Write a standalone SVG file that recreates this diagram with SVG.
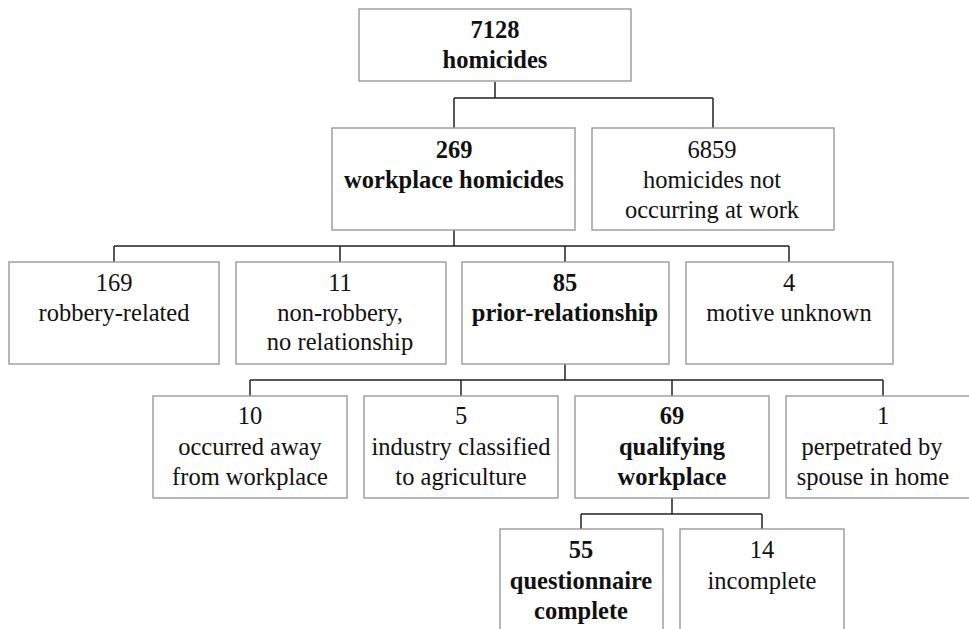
<svg xmlns="http://www.w3.org/2000/svg" width="969" height="629" viewBox="0 0 969 629">
<style>
.box{fill:#fff;stroke:#999;stroke-width:1.4}
.conn{fill:none;stroke:#222;stroke-width:1.5}
text{font-family:'Liberation Serif','Times New Roman',serif;font-size:24.5px;fill:#111;text-anchor:middle}
.b{font-weight:bold}
</style>
<rect width="969" height="629" fill="#fff"/>
<g id="connectors" class="conn">
<path d="M495 82V98M454 98H713M454 98V128M713 98V128"/>
<path d="M454 230V246M114 246H789M114 246V262M340 246V262M565 246V262M789 246V262"/>
<path d="M565 364V380M250 380H883M250 380V396M461 380V396M672 380V396M883 380V396"/>
<path d="M672 498V514M581 514H762M581 514V529M762 514V529"/>
</g>
<g id="nodes" font-family="Liberation Serif, Times New Roman, serif">
<g id="n7128"><rect class="box" x="359" y="9" width="272" height="72"/><text class="b" x="495" y="38">7128</text><text class="b" x="495" y="68">homicides</text></g>
<g id="n269"><rect class="box" x="332" y="128" width="243" height="102"/><text class="b" x="454" y="158">269</text><text class="b" x="454" y="188">workplace homicides</text></g>
<g id="n6859"><rect class="box" x="592" y="128" width="242" height="102"/><text x="712" y="158">6859</text><text x="712" y="188">homicides not</text><text x="712" y="218">occurring at work</text></g>
<g id="n169"><rect class="box" x="9" y="262" width="210" height="102"/><text x="114" y="291">169</text><text x="114" y="321">robbery-related</text></g>
<g id="n11"><rect class="box" x="236" y="262" width="210" height="102"/><text x="340" y="291">11</text><text x="340" y="321">non-robbery,</text><text x="340" y="350">no relationship</text></g>
<g id="n85"><rect class="box" x="462" y="262" width="207" height="102"/><text class="b" x="565" y="291">85</text><text class="b" x="565" y="321">prior-relationship</text></g>
<g id="n4"><rect class="box" x="686" y="262" width="207" height="102"/><text x="789" y="291">4</text><text x="789" y="321">motive unknown</text></g>
<g id="n10"><rect class="box" x="153" y="396" width="194" height="102"/><text x="250" y="424">10</text><text x="250" y="455">occurred away</text><text x="250" y="485">from workplace</text></g>
<g id="n5"><rect class="box" x="364" y="396" width="194" height="102"/><text x="461" y="424">5</text><text x="461" y="455">industry classified</text><text x="461" y="485">to agriculture</text></g>
<g id="n69"><rect class="box" x="575" y="396" width="194" height="102"/><text class="b" x="672" y="424">69</text><text class="b" x="672" y="455">qualifying</text><text class="b" x="672" y="485">workplace</text></g>
<g id="n1"><rect class="box" x="786" y="396" width="194" height="102"/><text x="883" y="424">1</text><text x="872" y="455">perpetrated by</text><text x="873" y="485">spouse in home</text></g>
<g id="n55"><rect class="box" x="500" y="529" width="163" height="110"/><text class="b" x="581" y="558">55</text><text class="b" x="581" y="589">questionnaire</text><text class="b" x="581" y="619">complete</text></g>
<g id="n14"><rect class="box" x="680" y="529" width="164" height="110"/><text x="762" y="558">14</text><text x="762" y="589">incomplete</text></g>
</g>
</svg>
